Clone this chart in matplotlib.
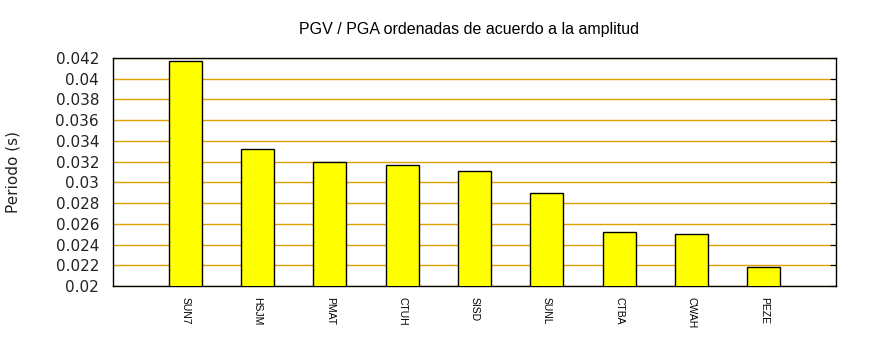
import numpy as np
import matplotlib.pyplot as plt

estaciones = ['SUN7', 'HSJM', 'PMAT', 'CTUH', 'SISD', 'SUNL', 'CTBA', 'CWAH', 'PEZE']
periodo = [0.0417, 0.0332, 0.0320, 0.0317, 0.0311, 0.0290, 0.0252, 0.0250, 0.0218]
yticks = np.arange(0.020, 0.0421, 0.002)

fig = plt.figure(figsize=(8.7, 3.5), dpi=100)
ax = fig.add_axes([113/870, 1 - 286/350, 723/870, 228/350])

x = np.arange(len(estaciones))
ax.bar(x, periodo, width=0.455, color='#ffff00', edgecolor='black', linewidth=1, zorder=3)

ax.set_xlim(-1, 9)
ax.set_ylim(0.02, 0.042)
ax.set_yticks(yticks)
ax.set_yticklabels(['%g' % round(v, 3) for v in yticks], fontsize=11, color='#222222')
ax.yaxis.grid(True, color='#e0a000', linewidth=1, zorder=1)
ax.set_axisbelow(True)

ax.set_xticks(x)
ax.set_xticklabels(estaciones, rotation=-90, fontsize=7.5, family='Liberation Sans')
ax.tick_params(axis='x', length=0, pad=8)
ax.tick_params(axis='y', left=False, right=True, direction='in', length=4, pad=10)

for s in ax.spines.values():
    s.set_linewidth(1)

ax.set_ylabel('Periodo (s)', fontsize=11, color='#222222')
ax.yaxis.set_label_coords(-93/723, 0.5)
ax.set_title('PGV / PGA ordenadas de acuerdo a la amplitud', fontsize=11.5,
             family='Liberation Sans', pad=17, x=0.493)

fig.savefig('out.png', dpi=100)
